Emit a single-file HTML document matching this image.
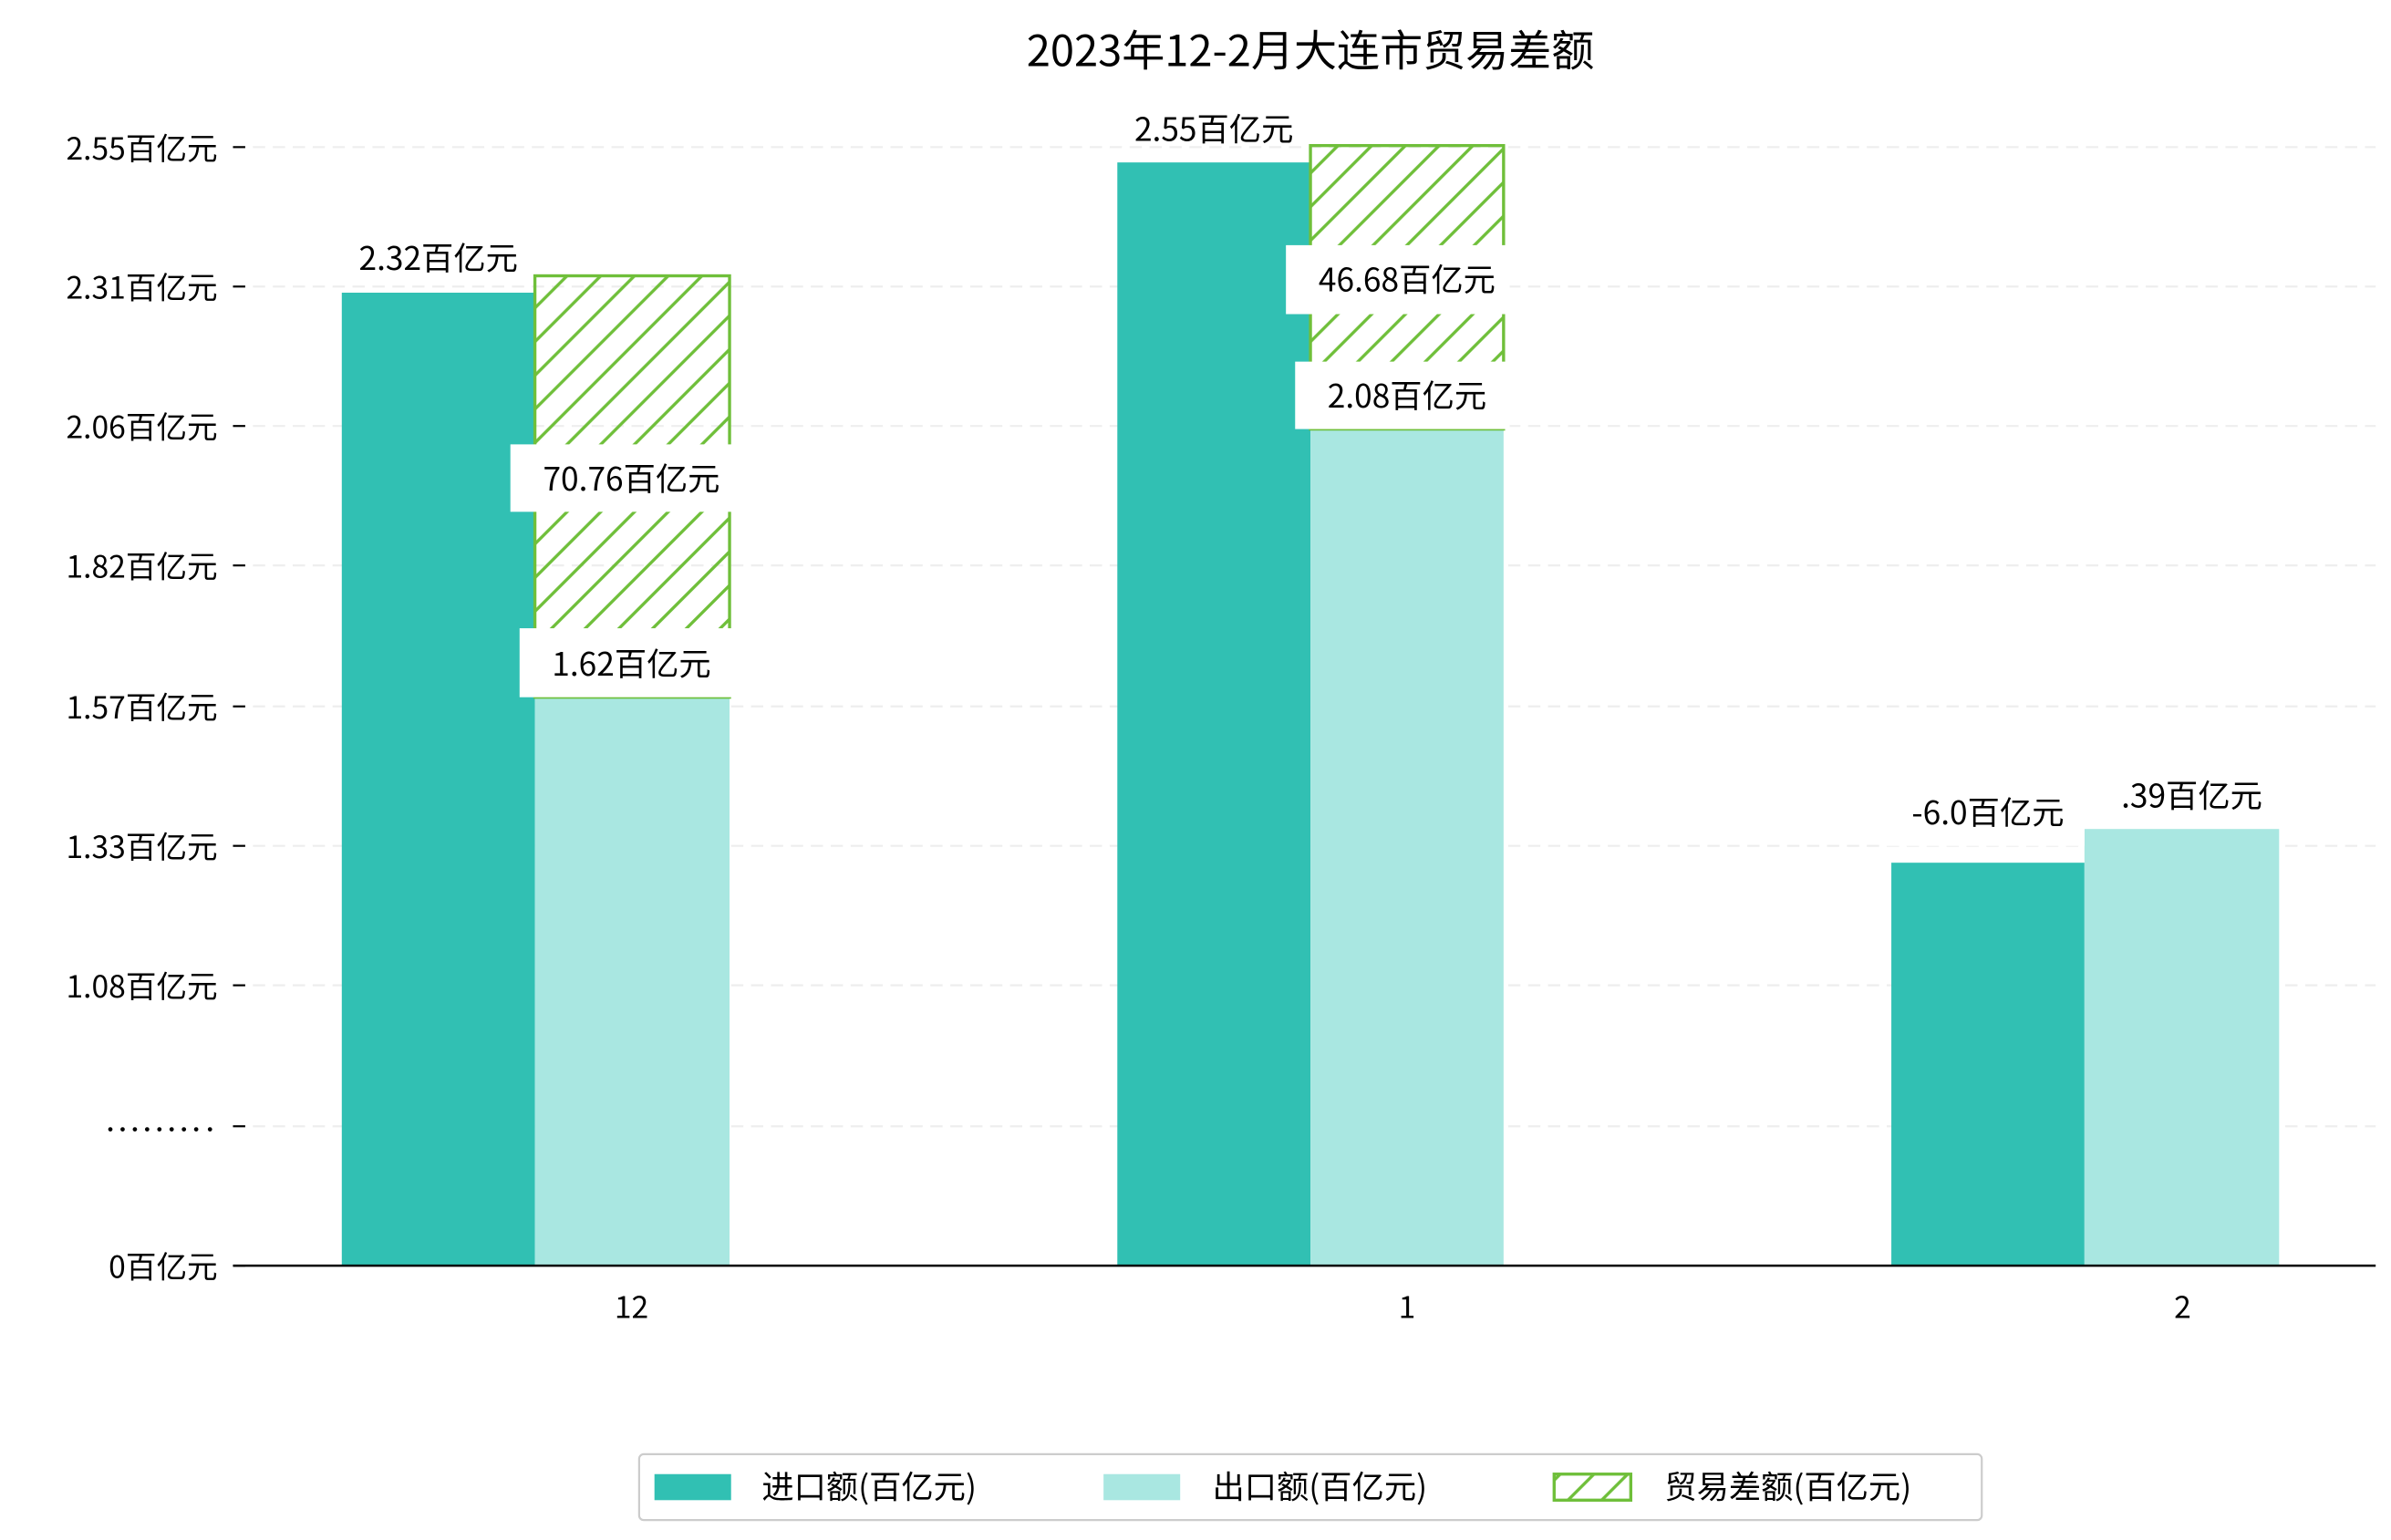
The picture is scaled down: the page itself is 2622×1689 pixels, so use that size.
<!DOCTYPE html>
<html><head><meta charset="utf-8"><style>
html,body{margin:0;padding:0;background:#fff}
svg{display:block}
text{font-family:"WenQuanYi Zen Hei","Noto Sans CJK SC",sans-serif;fill:#000}
</style></head><body>
<svg width="2622" height="1689" viewBox="0 0 1560 1005" preserveAspectRatio="none" xmlns="http://www.w3.org/2000/svg">
<defs>
<pattern id="h" patternUnits="userSpaceOnUse" width="22" height="22">
<path d="M-5.5,5.5 L5.5,-5.5 M0,22 L22,0 M16.5,27.5 L27.5,16.5" stroke="#6fbf3a" stroke-width="2"/>
</pattern>
</defs>
<rect width="1560" height="1005" fill="#fff"/>
<text x="855" y="43" font-size="28" text-anchor="middle">2023年12-2月大连市贸易差额</text>
<g stroke="#eeeeee" stroke-width="1.3" stroke-dasharray="8,5">
<line x1="152" x2="1550" y1="96" y2="96"/><line x1="152" x2="1550" y1="187" y2="187"/>
<line x1="152" x2="1550" y1="278" y2="278"/><line x1="152" x2="1550" y1="369" y2="369"/>
<line x1="152" x2="1550" y1="461" y2="461"/><line x1="152" x2="1550" y1="552" y2="552"/>
<line x1="152" x2="1550" y1="643" y2="643"/><line x1="152" x2="1550" y1="735" y2="735"/>
</g>
<g stroke="#000" stroke-width="1.3">
<line x1="152" x2="160" y1="96" y2="96"/><line x1="152" x2="160" y1="187" y2="187"/>
<line x1="152" x2="160" y1="278" y2="278"/><line x1="152" x2="160" y1="369" y2="369"/>
<line x1="152" x2="160" y1="461" y2="461"/><line x1="152" x2="160" y1="552" y2="552"/>
<line x1="152" x2="160" y1="643" y2="643"/><line x1="152" x2="160" y1="735" y2="735"/>
<line x1="152" x2="160" y1="826" y2="826"/>
</g>
<g font-size="20" text-anchor="end">
<text x="142" y="104">2.55百亿元</text><text x="142" y="195">2.31百亿元</text>
<text x="142" y="286">2.06百亿元</text><text x="142" y="377">1.82百亿元</text>
<text x="142" y="469">1.57百亿元</text><text x="142" y="560">1.33百亿元</text>
<text x="142" y="651">1.08百亿元</text>
<text x="142" y="834">0百亿元</text>
</g>
<g fill="#000">
<circle cx="72" cy="737" r="1.4"/><circle cx="80" cy="737" r="1.4"/><circle cx="88" cy="737" r="1.4"/>
<circle cx="96" cy="737" r="1.4"/><circle cx="104" cy="737" r="1.4"/><circle cx="112" cy="737" r="1.4"/>
<circle cx="120" cy="737" r="1.4"/><circle cx="128" cy="737" r="1.4"/><circle cx="137" cy="737" r="1.4"/>
</g>
<rect x="223" y="191" width="126" height="635" fill="#31c0b3"/>
<rect x="349" y="455" width="127" height="371" fill="#a9e7e1"/>
<rect x="349" y="180" width="127" height="275" fill="url(#h)" stroke="#6fbf3a" stroke-width="2"/>
<rect x="729" y="106" width="126" height="720" fill="#31c0b3"/>
<rect x="855" y="280" width="126" height="546" fill="#a9e7e1"/>
<rect x="855" y="95" width="126" height="185" fill="url(#h)" stroke="#6fbf3a" stroke-width="2"/>
<rect x="1234" y="563" width="126" height="263" fill="#31c0b3"/>
<rect x="1360" y="541" width="127" height="285" fill="#a9e7e1"/>
<line x1="152" x2="1550" y1="826" y2="826" stroke="#000" stroke-width="1.5"/>
<g font-size="21" text-anchor="middle">
<text x="286" y="176">2.32百亿元</text>
<rect x="333" y="290" width="147" height="44" fill="#fff"/><text x="412" y="320">70.76百亿元</text>
<rect x="339" y="410" width="141" height="45" fill="#fff"/><text x="412" y="441">1.62百亿元</text>
<text x="792" y="92">2.55百亿元</text>
<rect x="839" y="160" width="146" height="45" fill="#fff"/><text x="918" y="190">46.68百亿元</text>
<rect x="845" y="236" width="140" height="44" fill="#fff"/><text x="918" y="266">2.08百亿元</text>
<text x="1430" y="527">.39百亿元</text>
<rect x="1228" y="508" width="132" height="44" fill="#fff"/><text x="1297" y="538">-6.0百亿元</text>
</g>
<g font-size="20" text-anchor="middle">
<text x="412" y="860">12</text><text x="918" y="860">1</text><text x="1424" y="860">2</text>
</g>
<rect x="417" y="949" width="876" height="43" rx="3" fill="#fff" stroke="#ccc" stroke-width="1.3"/>
<rect x="427" y="962" width="50" height="17" fill="#31c0b3"/>
<text x="497" y="978" font-size="21">进口额(百亿元)</text>
<rect x="720" y="962" width="50" height="17" fill="#a9e7e1"/>
<text x="791" y="978" font-size="21">出口额(百亿元)</text>
<rect x="1014" y="962" width="50" height="17" fill="url(#h)" stroke="#6fbf3a" stroke-width="2"/>
<text x="1086" y="978" font-size="21">贸易差额(百亿元)</text>
</svg>
</body></html>
